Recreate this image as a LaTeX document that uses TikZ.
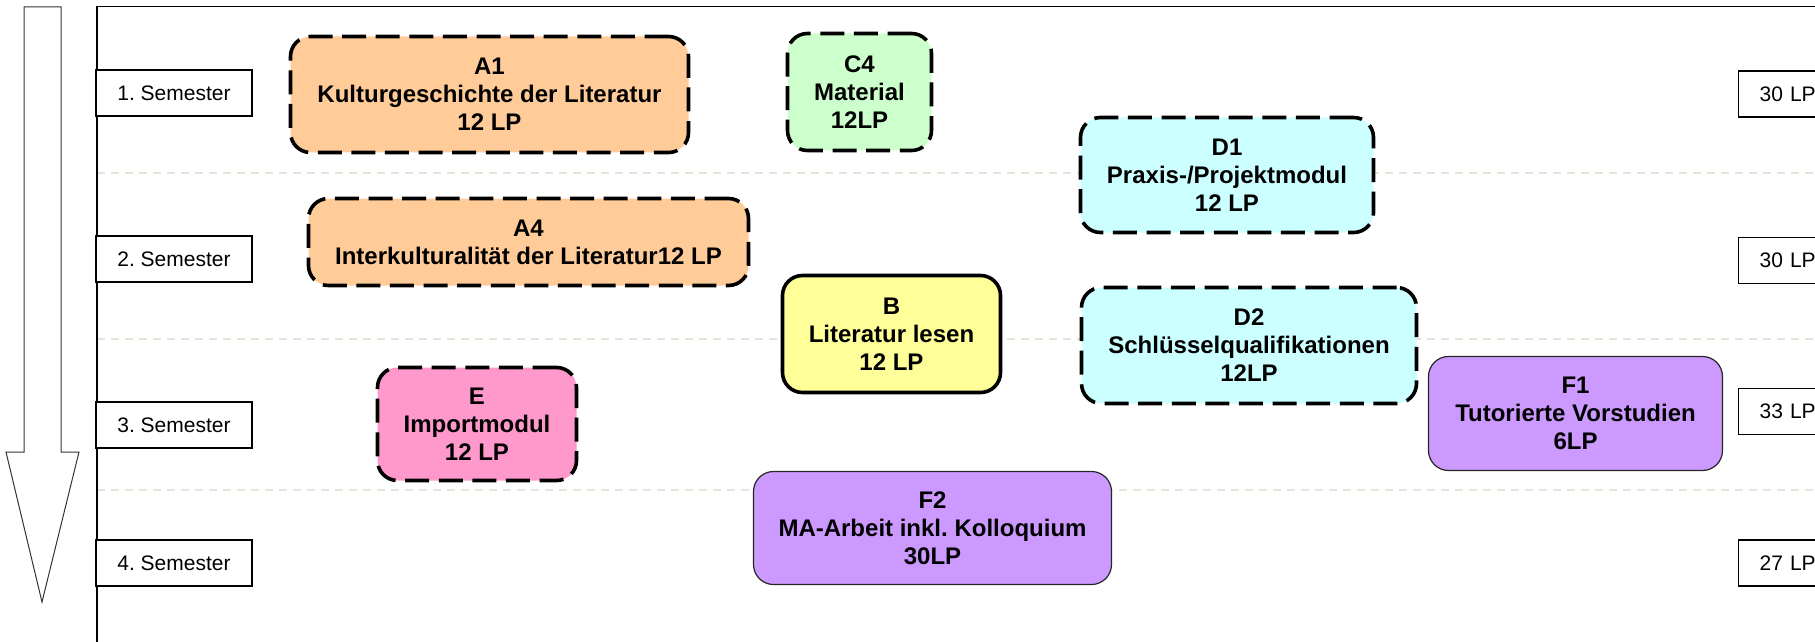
\documentclass[tikz,border=0pt]{standalone}
\usepackage{fontspec}
\setmainfont{Liberation Sans}
\frenchspacing
\definecolor{orangefill}{HTML}{FFCC99}
\definecolor{greenfill}{HTML}{CCFFCC}
\definecolor{cyanfill}{HTML}{CCFFFF}
\definecolor{yellowfill}{HTML}{FFFF99}
\definecolor{pinkfill}{HTML}{FF99CC}
\definecolor{purplefill}{HTML}{CC99FF}
\definecolor{sepgray}{HTML}{E6E4D8}
\begin{document}
\frenchspacing
\begin{tikzpicture}[x=0.5pt,y=-0.5pt,
  module/.style={rounded corners=10pt, inner sep=0pt, align=center,
    font=\fontsize{12}{14}\selectfont\bfseries},
  dashedmod/.style={module, draw=black, line width=1.8pt, dash pattern=on 12pt off 4.8pt},
  solidmod/.style={module, draw=black, line width=1.8pt},
  thinmod/.style={module, draw=black!85, line width=0.6pt},
  semlabel/.style={draw=black, line width=0.7pt, fill=white, minimum width=78pt,
    minimum height=23pt, inner sep=0pt, font=\fontsize{10.5}{12}\selectfont},
  lpbox/.style={draw=black, line width=0.7pt, fill=white, minimum height=23pt,
    text width=57pt, inner xsep=10.5pt, inner ysep=0pt, align=left, anchor=west,
    font=\fontsize{10.5}{12}\selectfont},
  sepline/.style={draw=sepgray, line width=0.6pt, dash pattern=on 4pt off 3pt},
  frameline/.style={draw=black, line width=0.8pt},
  bigarrow/.style={draw=black!80, line width=0.5pt, fill=white}
]
\useasboundingbox (0,0) rectangle (1815,642);
\clip (0,0) rectangle (1815,642);
\fill[white] (0,0) rectangle (1815,642);

% separator lines
\coordinate (s1l) at (97,173);  \coordinate (s1r) at (1815,173);
\coordinate (s2l) at (97,339);  \coordinate (s2r) at (1815,339);
\coordinate (s3l) at (97,490);  \coordinate (s3r) at (1815,490);
\draw[sepline] (s1l) -- (s1r);
\draw[sepline] (s2l) -- (s2r);
\draw[sepline] (s3l) -- (s3r);

% frame
\coordinate (fbl) at (96.7,650);
\coordinate (ftl) at (96.7,6.7);
\coordinate (ftr) at (1830,6.7);
\draw[frameline] (fbl) -- (ftl) -- (ftr);

% big downward arrow
\draw[bigarrow] (24,7) -- (24,452) -- (6,452) -- (42,602) -- (79,452) -- (61,452) -- (61,7) -- cycle;

% semester labels
\node[semlabel] (sem1) at (174,93) {1. Semester};
\node[semlabel] (sem2) at (174,259) {2. Semester};
\node[semlabel] (sem3) at (174,425) {3. Semester};
\node[semlabel] (sem4) at (174,563) {4. Semester};

% LP labels
\node[lpbox] (lp1) at (1738,94) {30 LP};
\node[lpbox] (lp2) at (1738,260.5) {30 LP};
\node[lpbox] (lp3) at (1738,411.5) {33 LP};
\node[lpbox] (lp4) at (1738,563) {27 LP};

% modules
\node[dashedmod, fill=orangefill, minimum width=199pt, minimum height=58pt] (A1) at (489.5,94.5)
  {A1\\Kulturgeschichte der Literatur\\12 LP};
\node[dashedmod, fill=greenfill, minimum width=72pt, minimum height=58.5pt] (C4) at (859.5,92)
  {C4\\Material\\12LP};
\node[dashedmod, fill=cyanfill, minimum width=146.5pt, minimum height=57.5pt] (D1) at (1227,175)
  {D1\\Praxis-/Projektmodul\\12 LP};
\node[dashedmod, fill=orangefill, minimum width=220pt, minimum height=43.5pt] (A4) at (528.5,242)
  {A4\\Interkulturalität der Literatur12 LP};
\node[solidmod, fill=yellowfill, minimum width=109pt, minimum height=58.5pt] (B) at (891.5,334)
  {B\\Literatur lesen\\12 LP};
\node[dashedmod, fill=cyanfill, minimum width=167.5pt, minimum height=58pt] (D2) at (1249,345.5)
  {D2\\Schlüsselqualifikationen\\12LP};
\node[dashedmod, fill=pinkfill, minimum width=99.5pt, minimum height=56.5pt] (E) at (477,424)
  {E\\Importmodul\\12 LP};
\node[thinmod, fill=purplefill, minimum width=147pt, minimum height=57pt] (F1) at (1575.5,413.5)
  {F1\\Tutorierte Vorstudien\\6LP};
\node[thinmod, fill=purplefill, minimum width=179pt, minimum height=56.5pt] (F2) at (932.5,528)
  {F2\\MA-Arbeit inkl. Kolloquium\\30LP};
\end{tikzpicture}
\end{document}
